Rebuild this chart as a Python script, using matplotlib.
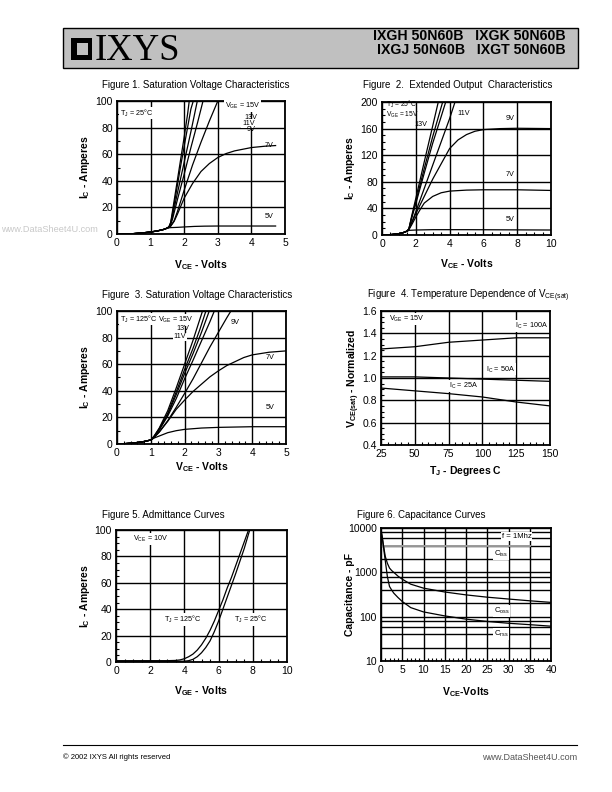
import matplotlib
matplotlib.use('Agg')
import matplotlib.pyplot as plt
from matplotlib.patches import Rectangle
from matplotlib.lines import Line2D
from matplotlib.ticker import MultipleLocator, FixedLocator, FixedFormatter, LogLocator, NullFormatter

plt.rcParams['font.family'] = ['Liberation Sans', 'DejaVu Sans']
plt.rcParams['mathtext.fontset'] = 'custom'
plt.rcParams['mathtext.rm'] = 'Liberation Sans'
plt.rcParams['mathtext.default'] = 'regular'

# ---------------- data ----------------
# Figure 1 (TJ = 25C), VCE vs IC
f1_common_x = [0, 0.25, 0.5, 0.75, 1.0, 1.2, 1.4, 1.5]
f1_common_y = [0, 0.1, 0.3, 0.8, 1.5, 2.3, 3.5, 4.5]
f1_a_x = [1.55, 1.6, 1.65, 1.7, 1.8, 1.9, 2.0, 2.1, 2.15]
f1_a_y = [5.5, 9, 17, 25, 41, 57, 73, 90, 100]
f1_b_x = [1.55, 1.6, 1.65, 1.7, 1.8, 1.9, 2.0, 2.1, 2.2, 2.27]
f1_b_y = [5.5, 8.5, 15, 22, 37, 52, 66, 80, 94, 100]
f1_c_x = [1.55, 1.6, 1.65, 1.8, 2.0, 2.2, 2.39]
f1_c_y = [5.5, 8, 13, 31, 54, 77, 100]
f1_d_x = [1.55, 1.6, 1.65, 1.7, 1.8, 2.0, 2.2, 2.4, 2.56]
f1_d_y = [5.5, 7.5, 11, 16, 26, 45, 65, 84, 100]
f1_9v_x = [1.55, 1.6, 1.7, 1.8, 2.0, 2.25, 2.5, 2.75, 3.0]
f1_9v_y = [5, 6, 10, 17, 33, 52, 69, 85, 100]
f1_7v_x = [1.55, 1.6, 1.7, 1.8, 1.9, 2.0, 2.25, 2.5, 2.75, 3.0, 3.25, 3.5, 4.0, 4.4, 4.72]
f1_7v_y = [5, 6, 9.5, 15, 21, 27, 38, 47, 53, 57.5, 60.5, 62.5, 65, 66, 66.5]
f1_5v_x = [1.5, 1.6, 1.8, 2.0, 2.3, 2.6, 3.0, 4.0, 4.72]
f1_5v_y = [4.5, 4.8, 5.0, 5.3, 5.7, 5.9, 6.0, 6.0, 6.0]

# Figure 2 (TJ = 25C), extended
f2_common_x = [0, 0.5, 1.0, 1.25, 1.5]
f2_common_y = [0, 0.5, 2, 3.5, 6]
f2_a_x = [1.6, 1.75, 2.0, 2.5, 3.0, 3.33]
f2_a_y = [10, 28, 55, 110, 164, 200]
f2_b_x = [1.6, 1.75, 2.0, 2.5, 3.0, 3.59]
f2_b_y = [10, 26, 50, 100, 148, 200]
f2_c_x = [1.6, 1.75, 2.0, 2.5, 3.0, 3.5, 3.77]
f2_c_y = [10, 25, 47, 93, 138, 178, 200]
f2_11v_x = [1.6, 1.75, 2.0, 2.5, 3.0, 3.5, 4.0, 4.32]
f2_11v_y = [9, 18, 35, 70, 105, 140, 175, 200]
f2_9v_x = [1.6, 1.75, 2.0, 2.5, 3.0, 3.5, 4.0, 4.5, 5.0, 5.5, 6.0, 7.0, 8.0, 10.0]
f2_9v_y = [9, 18, 32, 58, 84, 107, 130, 143, 151, 156, 158.5, 160, 160.5, 160]
f2_7v_x = [1.6, 1.75, 2.0, 2.25, 2.5, 3.0, 3.5, 4.0, 5.0, 6.0, 8.0, 10.0]
f2_7v_y = [8.5, 15, 27, 38, 48, 58, 63.5, 66, 67.5, 68, 68, 67]
f2_5v_x = [1.6, 2.0, 3.0, 5.0, 10.0]
f2_5v_y = [7, 7.5, 8, 8, 7.5]

# Figure 3 (TJ = 125C)
f3_common_x = [0, 0.25, 0.5, 0.75, 1.0]
f3_common_y = [0, 0.3, 0.8, 1.6, 3]
f3_a_x = [1.1, 1.25, 1.5, 1.75, 2.0, 2.25, 2.53]
f3_a_y = [6, 12, 25, 42, 60, 78, 100]
f3_b_x = [1.1, 1.25, 1.5, 1.75, 2.0, 2.25, 2.45, 2.63]
f3_b_y = [6, 11.5, 23, 39, 56, 72, 86, 100]
f3_c_x = [1.1, 1.25, 1.5, 1.75, 2.0, 2.25, 2.5, 2.73]
f3_c_y = [5.5, 11, 22, 37, 53, 68, 84, 100]
f3_d_x = [1.1, 1.25, 1.5, 1.75, 2.0, 2.25, 2.5, 2.75, 2.88]
f3_d_y = [5.5, 10.5, 21, 34, 49, 63, 77.5, 92, 100]
f3_9v_x = [1.1, 1.25, 1.5, 1.75, 2.0, 2.25, 2.5, 2.75, 3.0, 3.25, 3.37]
f3_9v_y = [5, 9, 17.5, 27.5, 38, 49, 61, 73, 84, 95, 100]
f3_7v_x = [1.1, 1.25, 1.5, 1.75, 2.0, 2.25, 2.5, 2.75, 3.0, 3.25, 3.5, 3.75, 4.0, 4.5, 5.0]
f3_7v_y = [5, 9, 17, 26, 33, 39.5, 45, 50.5, 55, 59, 62, 65, 67, 69, 70]
f3_5v_x = [1.1, 1.25, 1.5, 1.75, 2.0, 2.5, 3.0, 4.0, 5.0]
f3_5v_y = [4.5, 6, 8.5, 10, 11, 12, 12.5, 13, 13]

# Figure 4 temperature dependence
f4_tj = [25, 50, 75, 100, 125, 150]
f4_100a = [1.26, 1.28, 1.32, 1.34, 1.36, 1.36]
f4_50a = [1.01, 1.01, 1.00, 0.99, 0.98, 0.97]
f4_25a = [0.91, 0.885, 0.86, 0.83, 0.785, 0.75]

# Figure 5 admittance
f5_125_x = [0, 1, 2, 3, 3.5, 3.75, 4, 4.25, 4.5, 4.75, 5, 5.25, 5.5, 5.75, 6, 6.25, 6.5, 6.75, 7, 7.25, 7.5, 7.75]
f5_125_y = [1, 1, 1, 1, 1.2, 1.6, 2.5, 4, 6, 9, 13, 18, 24, 31, 39, 47, 56, 64, 73, 82, 91, 100]
f5_25_x = [0, 1, 2, 3, 4, 4.25, 4.5, 4.75, 5, 5.25, 5.5, 5.75, 6, 6.25, 6.5, 6.75, 7, 7.25, 7.5, 7.82]
f5_25_y = [0.5, 0.5, 0.5, 0.5, 0.6, 1, 2, 4, 7, 11, 16, 23, 31, 40, 49, 58, 67, 76.5, 86, 100]

# Figure 6 capacitance
f6_ciss_x = [0.3, 35]
f6_ciss_y = [4000, 4000]
f6_coss_x = [0.1, 0.3, 0.5, 1, 1.5, 2, 2.5, 3, 4, 5, 7, 10, 15, 20, 25, 30, 35, 40]
f6_coss_y = [7500, 6200, 4500, 2300, 1600, 1250, 1100, 1000, 820, 700, 540, 440, 360, 310, 275, 250, 228, 210]
f6_crss_x = [0.1, 0.3, 0.5, 0.75, 1, 1.5, 2, 2.5, 3, 4, 5, 7, 10, 15, 20, 25, 30, 35, 40]
f6_crss_y = [8000, 6000, 4400, 2800, 1850, 800, 480, 400, 340, 270, 220, 160, 128, 104, 88, 78, 71, 66, 61]

# ---------------- figure ----------------
W, H = 612, 792
fig = plt.figure(figsize=(6.12, 7.92), dpi=100)


def fx(x):
    return x / W


def fy(y):
    return 1 - y / H


def add_axes(l, t, r, b):
    return fig.add_axes([fx(l), fy(b), (r - l) / W, (b - t) / H])


LW = 0.9
TSZ = 7.5
ASZ = 5.2


def style(ax, xlim, ylim, xmaj, ymaj, xmin=None, ymin=None, log=False):
    ax.set_xlim(*xlim)
    ax.set_ylim(*ylim)
    ax.xaxis.set_major_locator(MultipleLocator(xmaj))
    if not log:
        ax.yaxis.set_major_locator(MultipleLocator(ymaj))
    if xmin:
        ax.xaxis.set_minor_locator(MultipleLocator(xmin))
    if ymin and not log:
        ax.yaxis.set_minor_locator(MultipleLocator(ymin))
    ax.grid(True, which='major', color='black', lw=1.0)
    ax.set_axisbelow(True)
    ax.tick_params(which='major', direction='in', length=0, labelsize=TSZ, pad=3)
    ax.tick_params(which='minor', direction='in', length=2.5, width=0.8)
    for s in ax.spines.values():
        s.set_linewidth(1.3)


def curve(ax, cx, cy, x, y, **kw):
    ax.plot(list(cx) + list(x), list(cy) + list(y), color='black', lw=LW, **kw)


def ann(ax, x, y, s, box=False, **kw):
    kw.setdefault('fontsize', ASZ)
    if box:
        kw['bbox'] = dict(fc='white', ec='none', pad=0.6)
    ax.text(x, y, s, va='center', **kw)


def xlab(ax, s, yoff):
    ax.set_xlabel(s, fontsize=7.5, fontweight='bold')
    ax.xaxis.set_label_coords(0.5, yoff)


def ylab(ax, s, xoff):
    ax.set_ylabel(s, fontsize=7.5, fontweight='bold')
    ax.yaxis.set_label_coords(xoff, 0.5)


# ---- Figure 1
ax1 = add_axes(117, 101, 285, 234)
style(ax1, (0, 5), (0, 100), 1, 20, None, 10)
for xs, ys in [(f1_a_x, f1_a_y), (f1_b_x, f1_b_y), (f1_c_x, f1_c_y), (f1_d_x, f1_d_y),
               (f1_9v_x, f1_9v_y), (f1_7v_x, f1_7v_y), (f1_5v_x, f1_5v_y)]:
    curve(ax1, f1_common_x, f1_common_y, xs, ys)
ann(ax1, 0.1, 91, r'T$_J$ = 25°C', box=True)
ann(ax1, 3.2, 96, r'V$_{GE}$ = 15V', box=True)
ann(ax1, 3.78, 87.5, '13V')
ann(ax1, 3.72, 83, '11V', box=True)
ann(ax1, 3.85, 78.5, '9V')
ann(ax1, 4.4, 66.5, '7V')
ann(ax1, 4.4, 13, '5V')
xlab(ax1, r'V$_{CE}$ - Volts', -0.18)
ylab(ax1, r'I$_C$ - Amperes', -0.146)
fig.text(fx(102), fy(85), 'Figure 1. Saturation Voltage Characteristics', fontsize=7, va='center')

# ---- Figure 2
ax2 = add_axes(382, 102, 551, 235)
style(ax2, (0, 10), (0, 200), 2, 40, 0.5, 10)
for xs, ys in [(f2_a_x, f2_a_y), (f2_b_x, f2_b_y), (f2_c_x, f2_c_y), (f2_11v_x, f2_11v_y),
               (f2_9v_x, f2_9v_y), (f2_7v_x, f2_7v_y), (f2_5v_x, f2_5v_y)]:
    curve(ax2, f2_common_x, f2_common_y, xs, ys)
ann(ax2, 0.25, 196.5, r'T$_J$ = 25°C', fontsize=4.8)
ann(ax2, 0.25, 181, r'V$_{GE}$ = 15V', fontsize=4.8)
ann(ax2, 1.9, 166, '13V')
ann(ax2, 4.45, 182, '11V')
ann(ax2, 7.3, 175, '9V')
ann(ax2, 7.3, 91, '7V')
ann(ax2, 7.3, 24, '5V')
xlab(ax2, r'V$_{CE}$ - Volts', -0.17)
ylab(ax2, r'I$_C$ - Amperes', -0.148)
fig.text(fx(363), fy(85), 'Figure  2.  Extended Output  Characteristics', fontsize=7, va='center')

# ---- Figure 3
ax3 = add_axes(117, 311, 286, 444)
style(ax3, (0, 5), (0, 100), 1, 20, 0.2, 10)
for xs, ys in [(f3_a_x, f3_a_y), (f3_b_x, f3_b_y), (f3_c_x, f3_c_y), (f3_d_x, f3_d_y),
               (f3_9v_x, f3_9v_y), (f3_7v_x, f3_7v_y), (f3_5v_x, f3_5v_y)]:
    curve(ax3, f3_common_x, f3_common_y, xs, ys)
ann(ax3, 0.08, 94, r'T$_J$ = 125°C', box=True)
ann(ax3, 1.2, 93.5, r'V$_{GE}$ = 15V', box=True)
ann(ax3, 1.76, 87, '13V')
ann(ax3, 1.68, 80.5, '11V', box=True)
ann(ax3, 3.35, 91, '9V')
ann(ax3, 4.4, 65, '7V')
ann(ax3, 4.4, 27.5, '5V')
xlab(ax3, r'V$_{CE}$ - Volts', -0.12)
ylab(ax3, r'I$_C$ - Amperes', -0.146)
fig.text(fx(102), fy(295), 'Figure  3. Saturation Voltage Characteristics', fontsize=7, va='center')

# ---- Figure 4
ax4 = add_axes(381, 311, 550, 445)
style(ax4, (25, 150), (0.4, 1.6), 25, 0.2, 5, 0.05)
ax4.yaxis.set_major_locator(FixedLocator([0.4, 0.6, 0.8, 1.0, 1.2, 1.4, 1.6]))
ax4.yaxis.set_major_formatter(FixedFormatter(['0.4', '0.6', '0.8', '1.0', '1.2', '1.4', '1.6']))
for ys in (f4_100a, f4_50a, f4_25a):
    ax4.plot(f4_tj, ys, color='black', lw=LW)
ann(ax4, 31, 1.525, r'V$_{GE}$ = 15V', box=True)
ann(ax4, 124, 1.465, r'I$_C$ = 100A', box=True)
ann(ax4, 103, 1.077, r'I$_C$ = 50A', box=True)
ann(ax4, 75, 0.927, r'I$_C$ = 25A', box=True)
xlab(ax4, r'T$_J$ - Degrees C', -0.14)
ylab(ax4, r'V$_{CE(sat)}$ - Normalized', -0.115)
fig.text(fx(367), fy(296), r'Figure  4. Temperature Dependence of V$_{CE(sat)}$', fontsize=7, va='center')

# ---- Figure 5
ax5 = add_axes(116, 530, 287, 662)
style(ax5, (0, 10), (0, 100), 2, 20, 0.5, 5)
ax5.plot(f5_125_x, f5_125_y, color='black', lw=LW)
ax5.plot(f5_25_x, f5_25_y, color='black', lw=LW)
ann(ax5, 1.0, 93, r'V$_{CE}$ = 10V', box=True)
ann(ax5, 2.8, 32, r'T$_J$ = 125°C', box=True)
ann(ax5, 6.9, 32, r'T$_J$ = 25°C', box=True)
xlab(ax5, r'V$_{GE}$ - Volts', -0.165)
ylab(ax5, r'I$_C$ - Amperes', -0.142)
fig.text(fx(102), fy(515), 'Figure 5. Admittance Curves', fontsize=7, va='center')

# ---- Figure 6
ax6 = add_axes(381, 528, 551, 661)
ax6.set_yscale('log')
style(ax6, (0, 40), (10, 10000), 5, None, 1, None, log=True)
ax6.yaxis.set_major_locator(FixedLocator([10, 100, 1000, 10000]))
ax6.yaxis.set_major_formatter(FixedFormatter(['10', '100', '1000', '10000']))
ax6.yaxis.set_minor_locator(LogLocator(base=10, subs=(2, 4, 6, 8)))
ax6.yaxis.set_minor_formatter(NullFormatter())
ax6.grid(True, which='minor', axis='y', color='black', lw=1.0)
ax6.tick_params(axis='y', which='minor', length=0)
ax6.plot(f6_ciss_x, f6_ciss_y, color='#9a9a9a', lw=1.4)
ax6.plot(f6_coss_x, f6_coss_y, color='black', lw=LW)
ax6.plot(f6_crss_x, f6_crss_y, color='black', lw=LW)
ann(ax6, 28.4, 6500, 'f = 1Mhz', box=True, fontsize=5.6)
ann(ax6, 26.5, 2550, r'C$_{iss}$', box=True, fontsize=5.6)
ann(ax6, 26.5, 132, r'C$_{oss}$', box=True, fontsize=5.6)
ann(ax6, 26.5, 40, r'C$_{rss}$', box=True, fontsize=5.6)
xlab(ax6, r'V$_{CE}$-Volts', -0.18)
ylab(ax6, 'Capacitance - pF', -0.152)
fig.text(fx(357), fy(515), 'Figure 6. Capacitance Curves', fontsize=7, va='center')

# ---- Header
fig.patches.append(Rectangle((fx(63), fy(68)), (578 - 63) / W, 40 / H, transform=fig.transFigure,
                             fc='#c0c0c0', ec='black', lw=1.0))
fig.patches.append(Rectangle((fx(71), fy(60)), 21 / W, 22 / H, transform=fig.transFigure,
                             fc='black', ec='none'))
fig.patches.append(Rectangle((fx(77), fy(55)), 11 / W, 12 / H, transform=fig.transFigure,
                             fc='#c0c0c0', ec='none'))
fig.text(fx(95), fy(60), 'IXYS', family='Liberation Serif', fontsize=26.5, va='baseline')
fig.text(fx(566), fy(36), 'IXGH 50N60B   IXGK 50N60B', fontsize=10.2, fontweight='bold', ha='right', va='center')
fig.text(fx(566), fy(50), 'IXGJ 50N60B   IXGT 50N60B', fontsize=10.2, fontweight='bold', ha='right', va='center')

# ---- Footer
fig.add_artist(Line2D([fx(63), fx(577)], [fy(745), fy(745)], transform=fig.transFigure, color='black', lw=0.8))
fig.text(fx(63), fy(757), '© 2002 IXYS All rights reserved', fontsize=5.5, va='center')
fig.text(fx(577), fy(757), 'www.DataSheet4U.com', fontsize=6.5, va='center', ha='right', color='#555555')
fig.text(fx(1), fy(229), 'www.DataSheet4U.com', fontsize=6.6, va='center', color='#c8c8c8')

fig.savefig('out.png', dpi=100)
